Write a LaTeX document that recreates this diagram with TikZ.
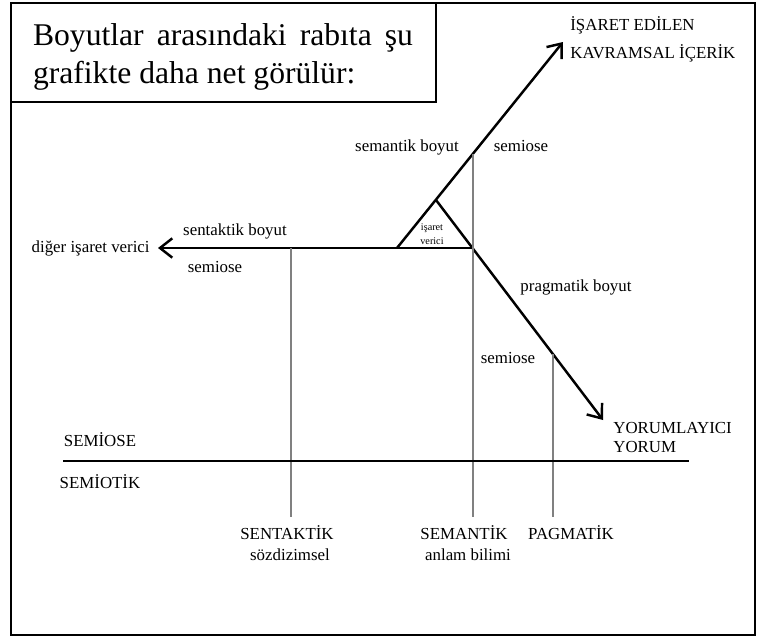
\documentclass[tikz,border=0pt]{standalone}
\usepackage{fontspec}
\setmainfont{Liberation Serif}
\usetikzlibrary{arrows.meta}
\tikzset{
  arrowline/.style={line width=1.4pt,-{Straight Barb[length=7pt,width=11pt]}},
  guide/.style={gray,line width=0.6pt},
  lbl/.style={font=\fontsize{9.6}{11}\selectfont,inner sep=0pt},
  tiny/.style={font=\fontsize{5.8}{8}\selectfont,inner sep=0pt,align=center},
}
\begin{document}
\begin{tikzpicture}[x=0.02cm,y=-0.02cm]
\useasboundingbox (0,0) rectangle (762,639);
\draw[line width=1.1pt] (11,3) rectangle (755,635);
\draw[line width=1.4pt] (11,3) rectangle (436,102);
\node[text width=7.6cm,align=justify,inner sep=0pt,font=\fontsize{18}{21.6}\selectfont] (title) at (223,57) {Boyutlar arasındaki rabıta şu grafikte daha net görülür:};
% the three dimensions
\coordinate (verici) at (473,248);
\coordinate (sol) at (397,248);
\coordinate (tepe) at (436,200);
\coordinate (ust) at (563,42);
\coordinate (alt) at (603,420);
\coordinate (diger) at (158,248);
\draw[arrowline] (sol) -- (ust);
\draw[arrowline] (tepe) -- (alt);
\draw[arrowline] (verici) -- (diger);
\foreach \x/\y in {291/248,473/154,553/354} \draw[guide] (\x,\y) -- (\x,517);
\draw[line width=1.4pt] (63,461) -- (689,461);
% labels
\node[tiny] (isaret) at (432,234) {işaret\\verici};
\node[lbl,anchor=west] (edilen) at (570,25) {İŞARET EDİLEN};
\node[lbl,anchor=west] (icerik) at (570,53) {KAVRAMSAL İÇERİK};
\node[lbl] (semboyut) at (407,147) {semantik boyut};
\node[lbl] (semiose1) at (521,146) {semiose};
\node[lbl] (senboyut) at (235,231) {sentaktik boyut};
\node[lbl,anchor=east] (digerlbl) at (150,248) {diğer işaret verici};
\node[lbl] (semiose2) at (215,267) {semiose};
\node[lbl] (pragboyut) at (576,287) {pragmatik boyut};
\node[lbl] (semiose3) at (508,358) {semiose};
\node[lbl,anchor=west] (yorumlayici) at (613,428) {YORUMLAYICI};
\node[lbl,anchor=west] (yorum) at (613,447) {YORUM};
\node[lbl] (semiose) at (100,440) {SEMİOSE};
\node[lbl] (semiotik) at (100,482) {SEMİOTİK};
\node[lbl] (sentaktik) at (287,533) {SENTAKTİK};
\node[lbl] (sozdizimsel) at (290,555) {sözdizimsel};
\node[lbl] (semantik) at (464,533) {SEMANTİK};
\node[lbl] (anlam) at (468,555) {anlam bilimi};
\node[lbl] (pagmatik) at (571,533) {PAGMATİK};
\end{tikzpicture}
\end{document}
